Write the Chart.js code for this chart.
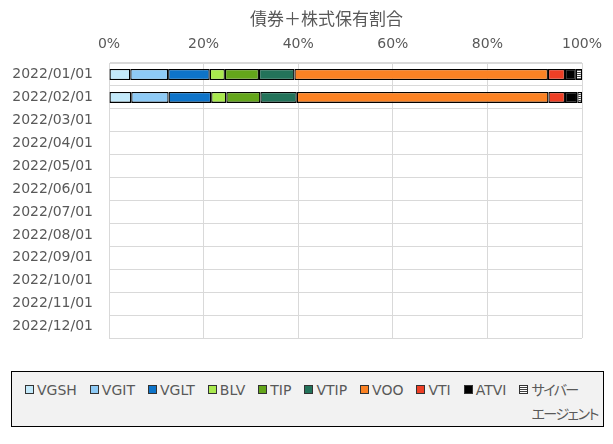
<!DOCTYPE html>
<html>
<head>
<meta charset="utf-8">
<script src="https://cdn.jsdelivr.net/npm/chart.js@4.4.0/dist/chart.umd.min.js"></script>
<style>
    body { margin: 0; background: #fff; }
    #wrap { position: relative; width: 613px; height: 444px; }
    #legend {
        position: absolute; left: 11px; top: 371px; width: 593px; height: 56px;
        box-sizing: border-box; background: #f2f2f2; border: 1px solid #000;
        display: flex; align-items: flex-start; padding: 6px 0 0 13px;
        font: 14px "DejaVu Sans", "Noto Sans CJK JP", sans-serif; color: #595959;
    }
    .item { display: flex; align-items: flex-start; margin-right: 13px; line-height: 24px; flex: none; }
    .item span.t { white-space: pre; font-feature-settings: "palt"; }
    .item span.t.cjk { letter-spacing: -1.5px; }
    .box { width: 9px; height: 9px; box-sizing: border-box; border: 1px solid #333; margin: 7px 3px 0 0; flex: none; }
</style>
</head>
<body>
<div id="wrap">
    <canvas id="c" width="613" height="444"></canvas>
    <div id="legend"></div>
</div>
<script>
const months = ['2022/01/01', '2022/02/01', '2022/03/01', '2022/04/01', '2022/05/01', '2022/06/01',
                '2022/07/01', '2022/08/01', '2022/09/01', '2022/10/01', '2022/11/01', '2022/12/01'];
const funds = ['VGSH', 'VGIT', 'VGLT', 'BLV', 'TIP', 'VTIP', 'VOO', 'VTI', 'ATVI', 'サイバーエージェント'];
const fundColors = ['#c3e9fa', '#8ecaf5', '#0e74c9', '#a9e94e', '#64a61b', '#23735a', '#fb8224', '#ee3f25', '#000000', 'stripes'];
// 割合 (%) — 1月, 2月のみ
const janShares = [4.5, 8.0, 8.8, 3.2, 7.2, 7.5, 53.6, 3.6, 2.3, 1.3];
const febShares = [4.7, 7.9, 9.0, 3.2, 7.2, 7.7, 53.2, 3.5, 2.6, 1.0];
const monthShares = [janShares, febShares];
const xTicks = [0, 20, 40, 60, 80, 100];

const FONT = '"DejaVu Sans", "Noto Sans CJK JP", sans-serif';
const TEXT = '#595959';
const GRID = '#d9d9d9';

// 横縞パターン
const makeStripes = () => {
    const p = document.createElement('canvas');
    p.width = 2; p.height = 2;
    const g = p.getContext('2d');
    g.fillStyle = '#fff'; g.fillRect(0, 0, 2, 2);
    g.fillStyle = '#404040'; g.fillRect(0, 0, 2, 1);
    return document.getElementById('c').getContext('2d').createPattern(p, 'repeat');
};
const stripes = makeStripes();

const datasets = funds.map((name, i) => ({
    label: name,
    data: months.map((m, j) => monthShares[j] ? monthShares[j][i] : null),
    backgroundColor: fundColors[i] === 'stripes' ? stripes : fundColors[i],
    borderColor: '#000',
    borderWidth: 1.3,
    borderSkipped: false,
    categoryPercentage: 1,
    barPercentage: 0.48
}));

// タイトルの中心をずらす (x=71〜582 の中央)
const titleShift = {
    id: 'titleShift',
    afterLayout: (chart) => {
        if (chart.titleBlock) {
            chart.titleBlock.left = 71;
            chart.titleBlock.right = 582;
        }
    }
};

const chart = new Chart(document.getElementById('c'), {
    type: 'bar',
    data: { labels: months, datasets: datasets },
    options: {
        indexAxis: 'y',
        responsive: false,
        animation: false,
        layout: { padding: { left: 0, right: 31, top: 0, bottom: 106 } },
        plugins: {
            legend: { display: false },
            tooltip: { enabled: false },
            title: {
                display: true,
                text: '債券＋株式保有割合',
                color: TEXT,
                font: { family: '"Noto Sans CJK JP", sans-serif', size: 17, weight: 'normal' },
                padding: { top: 8, bottom: 0 }
            }
        },
        scales: {
            x: {
                position: 'top',
                stacked: true,
                min: 0, max: 100,
                afterBuildTicks: (scale) => { scale.ticks = xTicks.map(v => ({ value: v })); },
                afterFit: (scale) => { scale.height = 34.6; },
                ticks: { color: TEXT, font: { family: FONT, size: 14 }, padding: 10, callback: (v) => v + '%' },
                grid: { color: GRID, drawTicks: false },
                border: { color: GRID }
            },
            y: {
                stacked: true,
                afterFit: (scale) => { scale.width = 109; },
                ticks: { color: TEXT, font: { family: FONT, size: 14 }, padding: 16, autoSkip: false },
                grid: { color: GRID, drawTicks: false },
                border: { color: GRID }
            }
        }
    },
    plugins: [titleShift]
});

// 凡例 (HTML)
const legendBreaks = { 'サイバーエージェント': 'サイバー\nエージェント' };
const legend = document.getElementById('legend');
chart.data.datasets.forEach((ds, i) => {
    const item = document.createElement('div');
    item.className = 'item';
    const box = document.createElement('span');
    box.className = 'box';
    if (fundColors[i] === 'stripes') {
        box.style.background = 'repeating-linear-gradient(#fff 0 1px, #404040 1px 2px)';
    } else {
        box.style.background = fundColors[i];
    }
    const txt = document.createElement('span');
    txt.className = /[^\x00-\x7F]/.test(ds.label) ? 't cjk' : 't';
    txt.textContent = legendBreaks[ds.label] || ds.label;
    item.appendChild(box);
    item.appendChild(txt);
    legend.appendChild(item);
});
</script>
</body>
</html>
